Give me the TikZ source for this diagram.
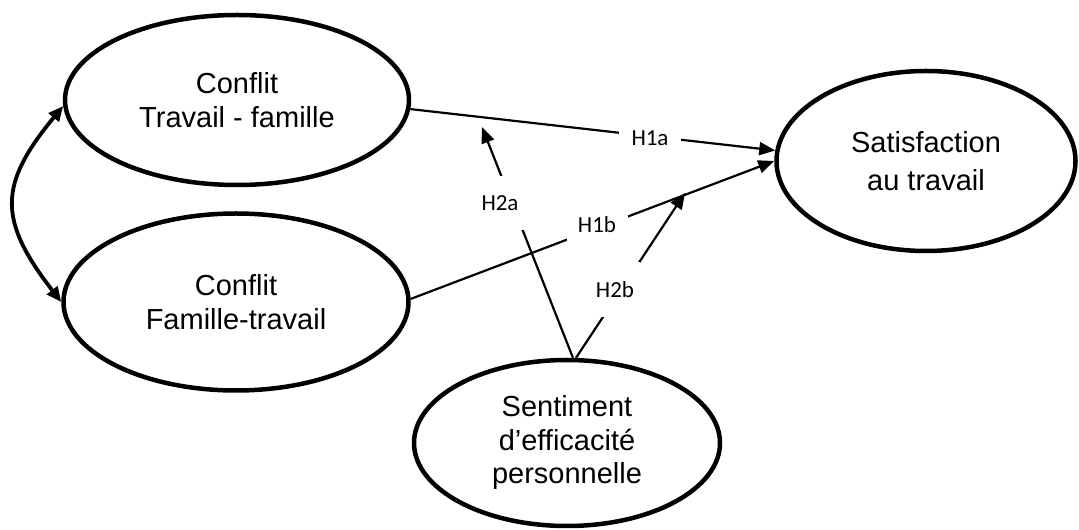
\documentclass[tikz,border=0pt]{standalone}
\usepackage{fontspec}
\setmainfont{Liberation Sans}
\newfontfamily\labelfont{Carlito}
\usetikzlibrary{shapes.geometric,arrows.meta}
\begin{document}
\begin{tikzpicture}[x=1pt,y=1pt,
  concept/.style={ellipse, draw, line width=4.5pt, inner sep=0pt, align=center,
    font=\fontsize{29}{33.5}\selectfont},
  conn/.style={line width=2.2pt, -{Triangle[length=16pt,width=13pt]}},
  bicurve/.style={line width=3.8pt, {Triangle[length=15pt,width=13pt]}-{Triangle[length=15pt,width=13pt]}},
  hlabel/.style={fill=white, inner sep=0pt, font=\labelfont\fontsize{23}{27}\selectfont}]
\useasboundingbox (0,0) rectangle (1079,530);
\node[concept, minimum width=344pt, minimum height=170pt] (ctf) at (237,430) {Conflit\\Travail - famille};
\node[concept, minimum width=345pt, minimum height=177pt] (cft) at (236,228) {Conflit\\Famille-travail};
\node[concept, minimum width=299pt, minimum height=180pt, font=\fontsize{29}{38}\selectfont] (sat) at (926,369) {Satisfaction\\au travail};
\node[concept, minimum width=306pt, minimum height=166pt] (sef) at (567,87) {Sentiment\\d’efficacité\\personnelle};
\coordinate (h2atip) at (482,403);
\coordinate (h2btip) at (685,337);
\draw[conn] (ctf.-3.6) -- (sat.176.6);
\draw[conn] (cft.1.6) -- (sat.180.4);
\draw[conn] (sef.86.6) -- (h2atip);
\draw[conn] (sef.84.8) -- (h2btip);
\draw[bicurve] (ctf.182) .. controls (-2,345) and (-2,310) .. (cft.west);
\node[hlabel, minimum width=62pt, minimum height=30pt] (l1a) at (650,392) {H1a};
\node[hlabel, minimum width=61pt, minimum height=32pt] (l1b) at (597,305) {H1b};
\node[hlabel, minimum width=52pt, minimum height=54pt] (l2a) at (500,327) {H2a};
\node[hlabel, minimum width=50pt, minimum height=55pt] (l2b) at (615,240) {H2b};
\end{tikzpicture}
\end{document}
